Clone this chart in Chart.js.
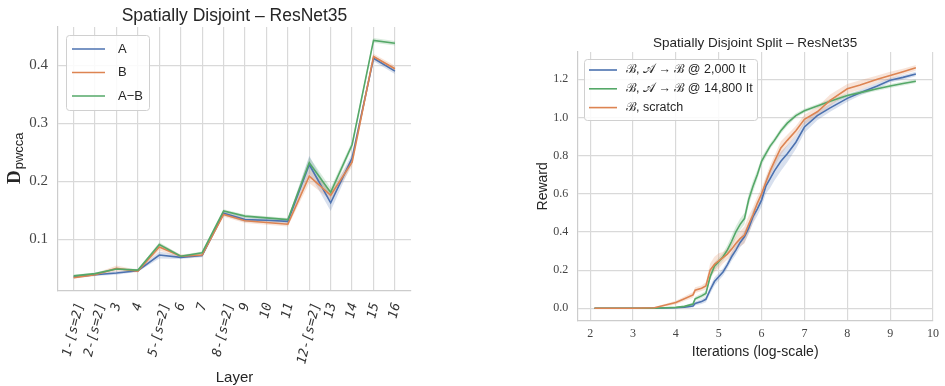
<!DOCTYPE html>
<html>
<head>
<meta charset="utf-8">
<script src="https://cdn.jsdelivr.net/npm/chart.js"></script>
<style>
  html, body { margin: 0; padding: 0; background: #fff; }
  #wrap { position: relative; width: 945px; height: 386px; overflow: hidden; }
  #leftChart { position: absolute; left: 0; top: 0; }
  #rightChart { position: absolute; left: 470px; top: 0; }
</style>
</head>
<body>
<div id="wrap">
  <canvas id="leftChart" width="470" height="386"></canvas>
  <canvas id="rightChart" width="475" height="386"></canvas>
</div>
<script>
// ---- left panel: Spatially Disjoint – ResNet35 ----
const layerLabels = ["1-[s=2]", "2-[s=2]", "3", "4", "5-[s=2]", "6", "7", "8-[s=2]", "9", "10", "11", "12-[s=2]", "13", "14", "15", "16"];
const layerTicksY = [0.1, 0.2, 0.3, 0.4];
const valuesA  = [0.035, 0.039, 0.042, 0.046, 0.073, 0.069, 0.072, 0.145, 0.134, 0.133, 0.131, 0.229, 0.163, 0.240, 0.412, 0.390];
const valuesB  = [0.034, 0.039, 0.050, 0.045, 0.087, 0.071, 0.073, 0.143, 0.132, 0.129, 0.126, 0.209, 0.176, 0.233, 0.415, 0.394];
const valuesAB = [0.037, 0.041, 0.049, 0.047, 0.091, 0.071, 0.077, 0.149, 0.140, 0.137, 0.134, 0.232, 0.181, 0.263, 0.443, 0.438];
const spreadA  = [0.002, 0.002, 0.003, 0.002, 0.006, 0.003, 0.003, 0.004, 0.004, 0.004, 0.004, 0.015, 0.014, 0.008, 0.005, 0.005];
const spreadB  = [0.002, 0.002, 0.005, 0.002, 0.006, 0.003, 0.003, 0.004, 0.004, 0.004, 0.004, 0.012, 0.008, 0.008, 0.005, 0.005];
const spreadAB = [0.002, 0.002, 0.002, 0.002, 0.004, 0.002, 0.002, 0.003, 0.003, 0.003, 0.003, 0.010, 0.008, 0.006, 0.004, 0.004];

// ---- right panel: Spatially Disjoint Split – ResNet35 ----
const iterTicksX = [2, 3, 4, 5, 6, 7, 8, 9, 10];
const rewardTicksY = [0, 0.2, 0.4, 0.6, 0.8, 1.0, 1.2];
const iterX = [2.1, 3.0, 3.5, 4.0, 4.2, 4.4, 4.45, 4.6, 4.7, 4.8, 4.9, 5.0, 5.1, 5.2, 5.3, 5.4, 5.5, 5.6, 5.7, 5.8, 5.9,
               6.0, 6.1, 6.2, 6.3, 6.45, 6.6, 6.8, 7.0, 7.3, 7.6, 8.0, 8.3, 8.7, 9.0, 9.3, 9.6];
const reward2000 = [0, 0, 0, 0.003, 0.006, 0.012, 0.025, 0.035, 0.047, 0.096, 0.14, 0.165, 0.19, 0.227, 0.27, 0.305, 0.345, 0.375, 0.42, 0.48, 0.52,
                    0.567, 0.64, 0.68, 0.72, 0.77, 0.81, 0.87, 0.95, 1.01, 1.05, 1.10, 1.13, 1.165, 1.195, 1.21, 1.228];
const reward14800 = [0, 0, 0, 0.005, 0.01, 0.022, 0.05, 0.065, 0.078, 0.165, 0.22, 0.244, 0.27, 0.305, 0.35, 0.40, 0.44, 0.47, 0.57, 0.64, 0.70,
                     0.77, 0.81, 0.85, 0.88, 0.93, 0.97, 1.01, 1.035, 1.06, 1.085, 1.115, 1.13, 1.15, 1.165, 1.178, 1.19];
const rewardScratch = [0, 0, 0.003, 0.03, 0.05, 0.07, 0.095, 0.105, 0.117, 0.2, 0.23, 0.248, 0.265, 0.284, 0.31, 0.34, 0.365, 0.384, 0.44, 0.49, 0.55,
                       0.60, 0.66, 0.72, 0.77, 0.84, 0.88, 0.93, 0.99, 1.03, 1.09, 1.15, 1.17, 1.20, 1.22, 1.24, 1.26];
const spread2000 = [0, 0, 0, 0.002, 0.004, 0.008, 0.01, 0.012, 0.015, 0.02, 0.022, 0.02, 0.02, 0.02, 0.022, 0.025, 0.025, 0.03, 0.03, 0.035, 0.035,
                    0.035, 0.04, 0.05, 0.05, 0.05, 0.045, 0.035, 0.03, 0.025, 0.02, 0.018, 0.015, 0.015, 0.012, 0.012, 0.012];
const spread14800 = [0, 0, 0, 0.002, 0.004, 0.008, 0.01, 0.012, 0.012, 0.02, 0.02, 0.02, 0.02, 0.025, 0.03, 0.03, 0.03, 0.03, 0.03, 0.03, 0.025,
                     0.02, 0.02, 0.015, 0.015, 0.015, 0.015, 0.012, 0.01, 0.01, 0.01, 0.01, 0.01, 0.01, 0.01, 0.01, 0.01];
const spreadScratch = [0, 0, 0.004, 0.01, 0.012, 0.015, 0.015, 0.015, 0.02, 0.035, 0.04, 0.04, 0.03, 0.03, 0.035, 0.035, 0.04, 0.045, 0.045, 0.04, 0.035,
                       0.03, 0.03, 0.03, 0.03, 0.035, 0.03, 0.025, 0.025, 0.025, 0.03, 0.025, 0.025, 0.02, 0.02, 0.015, 0.015];

const BLUE = "#4c72b0", ORANGE = "#dd8452", GREEN = "#55a868";
const GRID = "#d9d9d9";
const TEXT = "#262626";

function toXY(xs, ys) { return ys.map((y, i) => ({ x: xs[i], y })); }

function lineSet(label, xs, ys, color, order) {
  return { label, data: toXY(xs, ys), borderColor: color, backgroundColor: color,
           borderWidth: 1.6, pointRadius: 0, fill: false, tension: 0, order };
}

// lower + upper edge of a shaded band, upper one filled down to the lower
function bandSets(xs, ys, spread, rgba, order) {
  const lo = ys.map((y, i) => y - spread[i]);
  const hi = ys.map((y, i) => y + spread[i]);
  return [
    { band: true, data: toXY(xs, lo), borderWidth: 0, pointRadius: 0, fill: false, order },
    { band: true, data: toXY(xs, hi), borderWidth: 0, pointRadius: 0, fill: "-1", backgroundColor: rgba, order }
  ];
}

// title centred over the plot area
const plotTitle = {
  id: "plotTitle",
  afterDraw(chart, args, opts) {
    const { ctx, chartArea } = chart;
    ctx.save();
    ctx.font = opts.font;
    ctx.fillStyle = TEXT;
    ctx.textAlign = "center";
    ctx.textBaseline = "middle";
    ctx.fillText(opts.text, (chartArea.left + chartArea.right) / 2, opts.y);
    ctx.restore();
  }
};

// legend box drawn inside the plot
const boxLegend = {
  id: "boxLegend",
  afterDraw(chart, args, opts) {
    const ctx = chart.ctx;
    const items = chart.data.datasets.filter(d => !d.band);
    ctx.save();
    ctx.beginPath();
    ctx.roundRect(opts.x + 0.5, opts.y + 0.5, opts.w, opts.h, 3);
    ctx.fillStyle = "rgba(255,255,255,0.85)";
    ctx.fill();
    ctx.strokeStyle = "#d0d0d0";
    ctx.lineWidth = 1;
    ctx.stroke();
    ctx.font = opts.font;
    ctx.textBaseline = "middle";
    items.forEach((d, i) => {
      const y = opts.firstRow + i * opts.rowStep;
      ctx.strokeStyle = d.borderColor;
      ctx.lineWidth = 1.6;
      ctx.beginPath();
      ctx.moveTo(opts.lineX, y);
      ctx.lineTo(opts.lineX + opts.lineLen, y);
      ctx.stroke();
      ctx.fillStyle = TEXT;
      ctx.fillText(d.label, opts.textX, y);
    });
    ctx.restore();
  }
};

// rotated layer names, box-centred under each tick (matplotlib style)
const layerTickLabels = {
  id: "layerTickLabels",
  afterDraw(chart) {
    const { ctx, scales } = chart;
    const ang = 76 * Math.PI / 180;
    const top = scales.x.top + 11;
    ctx.save();
    ctx.font = 'italic 13px "DejaVu Sans Mono"';
    ctx.fillStyle = "#333";
    ctx.textAlign = "center";
    ctx.textBaseline = "middle";
    layerLabels.forEach((lab, i) => {
      const w = ctx.measureText(lab).width, h = 10;
      const cx = scales.x.getPixelForValue(i + 1);
      const cy = top + (w * Math.sin(ang) + h * Math.cos(ang)) / 2;
      ctx.save();
      ctx.translate(cx, cy);
      ctx.rotate(-ang);
      ctx.fillText(lab, 0, 0);
      ctx.restore();
    });
    ctx.restore();
  }
};

// y label D with subscript "pwcca"
const dLabel = {
  id: "dLabel",
  afterDraw(chart) {
    const ctx = chart.ctx;
    ctx.save();
    ctx.translate(20, 184);
    ctx.rotate(-Math.PI / 2);
    ctx.fillStyle = TEXT;
    ctx.textBaseline = "alphabetic";
    ctx.font = 'bold 19px "Liberation Serif"';
    ctx.fillText("D", 0, 0);
    const dw = ctx.measureText("D").width;
    ctx.font = '13px "Liberation Sans"';
    ctx.fillText("pwcca", dw + 1, 3);
    ctx.restore();
  }
};

Chart.defaults.devicePixelRatio = 1;
Chart.defaults.animation = false;
Chart.defaults.color = TEXT;

const leftDatasets = [
  ...bandSets(layerLabels.map((_, i) => i + 1), valuesA, spreadA, "rgba(76,114,176,0.22)", 13),
  ...bandSets(layerLabels.map((_, i) => i + 1), valuesB, spreadB, "rgba(221,132,82,0.22)", 12),
  ...bandSets(layerLabels.map((_, i) => i + 1), valuesAB, spreadAB, "rgba(85,168,104,0.22)", 11),
  lineSet("A", layerLabels.map((_, i) => i + 1), valuesA, BLUE, 3),
  lineSet("B", layerLabels.map((_, i) => i + 1), valuesB, ORANGE, 2),
  lineSet("A\u2212B", layerLabels.map((_, i) => i + 1), valuesAB, GREEN, 1)
];

new Chart(document.getElementById("leftChart"), {
  type: "line",
  data: { datasets: leftDatasets },
  plugins: [plotTitle, boxLegend, layerTickLabels, dLabel],
  options: {
    responsive: false,
    layout: { padding: { left: 0, right: 59, top: 27, bottom: 0 } },
    plugins: {
      legend: { display: false },
      tooltip: { enabled: false },
      plotTitle: { text: "Spatially Disjoint \u2013 ResNet35", y: 16, font: '17.5px "Liberation Sans"' },
      boxLegend: { x: 66, y: 35, w: 83, h: 75, firstRow: 49, rowStep: 23.5, lineX: 72, lineLen: 33, textX: 118,
                   font: '13px "Liberation Sans"' }
    },
    scales: {
      x: {
        type: "linear", min: 0.27, max: 16.75,
        afterBuildTicks: (s) => { s.ticks = layerLabels.map((_, i) => ({ value: i + 1 })); },
        afterFit: (s) => { s.height = 95; },
        ticks: { display: false },
        grid: { color: GRID, lineWidth: 1.2, drawTicks: false },
        border: { color: "#cccccc", width: 1.2 },
        title: { display: true, text: "Layer", font: { family: "Liberation Sans", size: 15, lineHeight: 1 },
                 padding: { top: 0, bottom: 0.5 }, color: TEXT }
      },
      y: {
        min: 0.011, max: 0.466,
        afterBuildTicks: (s) => { s.ticks = layerTicksY.map(v => ({ value: v })); },
        afterFit: (s) => { s.width = 58; },
        ticks: { padding: 10, color: "#444", font: { family: "Liberation Serif", size: 15 },
                 callback: (v) => v.toFixed(1) },
        grid: { color: GRID, lineWidth: 1.2, drawTicks: false },
        border: { color: "#cccccc", width: 1.2 }
      }
    }
  }
});

const rightDatasets = [
  ...bandSets(iterX, reward2000, spread2000, "rgba(76,114,176,0.22)", 13),
  ...bandSets(iterX, reward14800, spread14800, "rgba(85,168,104,0.22)", 12),
  ...bandSets(iterX, rewardScratch, spreadScratch, "rgba(221,132,82,0.22)", 11),
  lineSet("\u212C, \uD835\uDC9C \u2192 \u212C @ 2,000 It", iterX, reward2000, BLUE, 3),
  lineSet("\u212C, \uD835\uDC9C \u2192 \u212C @ 14,800 It", iterX, reward14800, GREEN, 2),
  lineSet("\u212C, scratch", iterX, rewardScratch, ORANGE, 1)
];

new Chart(document.getElementById("rightChart"), {
  type: "line",
  data: { datasets: rightDatasets },
  plugins: [plotTitle, boxLegend],
  options: {
    responsive: false,
    layout: { padding: { left: 0, right: 8, top: 52, bottom: 0 } },
    plugins: {
      legend: { display: false },
      tooltip: { enabled: false },
      plotTitle: { text: "Spatially Disjoint Split \u2013 ResNet35", y: 43, font: '13.5px "Liberation Sans"' },
      boxLegend: { x: 114, y: 59, w: 173, h: 61, firstRow: 70, rowStep: 18.8, lineX: 119, lineLen: 28, textX: 156,
                   font: '12.5px "Liberation Sans"' }
    },
    scales: {
      x: {
        type: "linear", min: 1.7, max: 10,
        afterBuildTicks: (s) => { s.ticks = iterTicksX.map(v => ({ value: v })); },
        afterFit: (s) => { s.height = 65.3; },
        ticks: { padding: 6, color: "#444", maxRotation: 0, font: { family: "Liberation Serif", size: 12 },
                 callback: (v) => String(v) },
        grid: { color: GRID, lineWidth: 1.2, drawTicks: false },
        border: { color: "#cccccc", width: 1.2 },
        title: { display: true, text: "Iterations (log-scale)", font: { family: "Liberation Sans", size: 14 },
                 padding: { top: 0, bottom: 25.6 }, color: TEXT }
      },
      y: {
        min: -0.065, max: 1.343,
        afterBuildTicks: (s) => { s.ticks = rewardTicksY.map(v => ({ value: v })); },
        afterFit: (s) => { s.width = 107.3; },
        ticks: { padding: 9, color: "#444", font: { family: "Liberation Serif", size: 12 },
                 callback: (v) => v.toFixed(1) },
        grid: { color: GRID, lineWidth: 1.2, drawTicks: false },
        border: { color: "#cccccc", width: 1.2 },
        title: { display: true, text: "Reward", font: { family: "Liberation Sans", size: 14 },
                 padding: { top: 65, bottom: 0 }, color: TEXT }
      }
    }
  }
});
</script>
</body>
</html>
